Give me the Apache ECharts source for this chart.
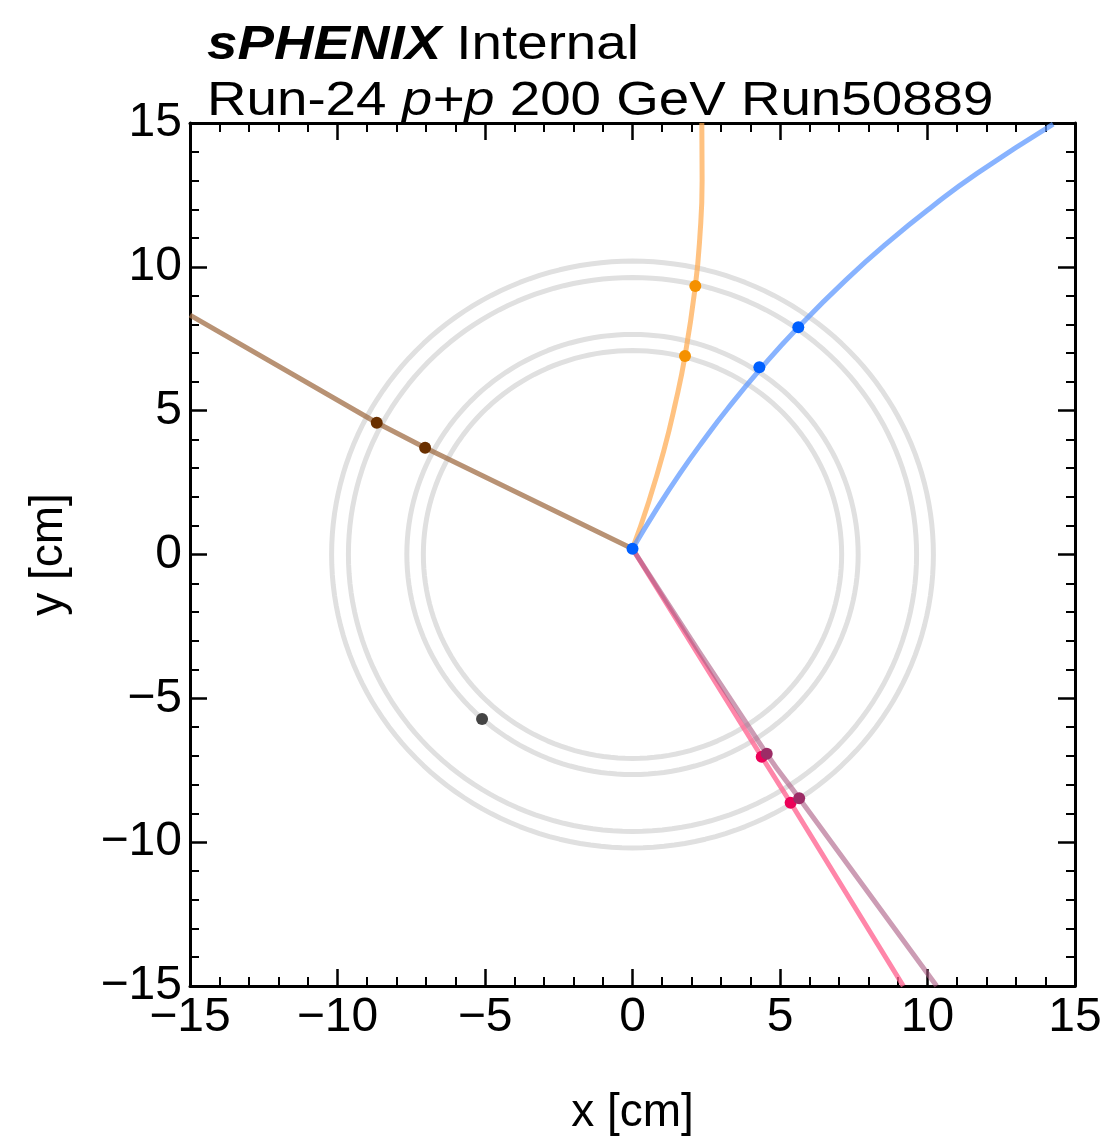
<!DOCTYPE html>
<html><head><meta charset="utf-8">
<script src="https://cdn.jsdelivr.net/npm/echarts/dist/echarts.min.js"></script>
<style>html,body{margin:0;padding:0;background:#fff}#c{width:1108px;height:1141px}</style>
</head><body><div id="c"></div>
<script>
// detector layer radii [cm]
const ringRadii = [7.09, 7.65, 9.63, 10.2];
// reconstructed tracks (x, y) [cm]
const orangeTrack = [[0,0.2],[0.54,1.8],[1.06,3.6],[1.44,5.2],[1.78,6.9],[2.13,9.33],[2.28,11],[2.36,13],[2.35,15]];
const blueTrack = [[0,0.2],[0.77,1.5],[1.61,2.82],[2.43,4.0],[3.21,5.05],[4.39,6.51],[5.62,7.9],[7.23,9.54],[8.75,10.93],[10.15,12.09],[11.68,13.25],[14.26,14.96]];
const brownTrack = [[0,0.2],[-7.03,3.71],[-8.67,4.58],[-15,8.32]];
const pinkTrack = [[0,0.2],[4.38,-7.03],[5.36,-8.63],[9.18,-15]];
const mauveTrack = [[0,0.2],[4.55,-6.93],[5.65,-8.47],[10.31,-15]];
// clusters (x, y) [cm]
const orangeHits = [[1.78,6.90],[2.13,9.33]];
const blueHits = [[4.30,6.51],[5.62,7.90]];
const brownHits = [[-8.67,4.58],[-7.03,3.71]];
const pinkHits = [[4.38,-7.03],[5.36,-8.63]];
const mauveHits = [[4.55,-6.93],[5.65,-8.47]];
const greyHits = [[-5.1,-5.72]];
const vertex = [[0,0.2]];

const FONT = 'Liberation Sans';
const chart = echarts.init(document.getElementById('c'), null, {renderer:'canvas'});

function ringPoints(r){
  const pts = [];
  for (let a = 0; a <= 360; a += 2) {
    const t = a * Math.PI / 180;
    pts.push([r * Math.cos(t), r * Math.sin(t)]);
  }
  return pts;
}
const fmt = v => String(v).replace('-', '\u2212');
function axis(pos, showLabel, name, extra){
  return Object.assign({
    type:'value', position:pos, min:-15, max:15, interval:5,
    axisLine:{show:true, onZero:false, lineStyle:{color:'#000', width:3}},
    axisTick:{show:true, inside:true, length:17, lineStyle:{color:'#000', width:2.5}},
    minorTick:{show:true, splitNumber:5, length:9, lineStyle:{color:'#000', width:2}},
    splitLine:{show:false}, minorSplitLine:{show:false},
    axisLabel:{show:showLabel, color:'#000', fontSize:48, fontFamily:FONT, margin:8,
      showMinLabel:true, showMaxLabel:true, formatter: fmt},
    name: name || '',
    nameLocation:'middle',
    nameTextStyle:{color:'#000', fontSize:46, fontFamily:FONT}
  }, extra || {});
}

const series = [];
ringRadii.forEach(r => series.push({
  type:'line', data:ringPoints(r), showSymbol:false, silent:true, smooth:false,
  lineStyle:{color:'#e0e0e0', width:5}, z:1
}));
function track(data, color, smooth){
  return {type:'line', data, showSymbol:false, silent:true, smooth:smooth,
    lineStyle:{color, width:5}, z:2};
}
series.push(track(brownTrack, 'rgba(160,110,70,0.75)', false));
series.push(track(orangeTrack, 'rgba(255,170,80,0.72)', 0.5));
series.push(track(blueTrack, 'rgba(90,150,255,0.72)', 0.5));
series.push(track(pinkTrack, 'rgba(255,100,145,0.78)', false));
series.push(track(mauveTrack, 'rgba(170,90,130,0.6)', 0.5));
function hits(data, color){
  return {type:'scatter', data, symbol:'circle', symbolSize:12, silent:true,
    itemStyle:{color, opacity:1}, z:5};
}
series.push(hits(orangeHits, '#f59100'));
series.push(hits(blueHits, '#0060ff'));
series.push(hits(brownHits, '#6a3000'));
series.push(hits(pinkHits, '#ec0058'));
series.push(hits(mauveHits, '#9c2c66'));
series.push(hits(greyHits, '#444444'));
series.push(hits(vertex, '#0060ff'));

chart.setOption({
  animation:false,
  backgroundColor:'#fff',
  grid:{left:190, top:123, width:885, height:863, containLabel:false, outerBoundsMode:'none', show:false},
  xAxis:[
    axis('bottom', true, 'x [cm]', {nameGap:104}),
    axis('top', false)
  ],
  yAxis:[
    axis('left', true, 'y [cm]', {nameGap:118, nameRotate:90}),
    axis('right', false)
  ],
  graphic:[
    {type:'text', x:207, y:22, scaleX:1.14, z:10, style:{
      text:'{b|sPHENIX} Internal', fontSize:48, fontFamily:FONT, fill:'#000', verticalAlign:'top',
      rich:{b:{fontSize:48, fontFamily:FONT, fontStyle:'italic', fontWeight:'bold', fill:'#000'}}
    }},
    {type:'text', x:207, y:78, scaleX:1.14, z:10, style:{
      text:'Run-24 {i|p+p} 200 GeV Run50889', fontSize:48, fontFamily:FONT, fill:'#000', verticalAlign:'top',
      rich:{i:{fontSize:48, fontFamily:FONT, fontStyle:'italic', fill:'#000'}}
    }}
  ],
  series
});
</script></body></html>
